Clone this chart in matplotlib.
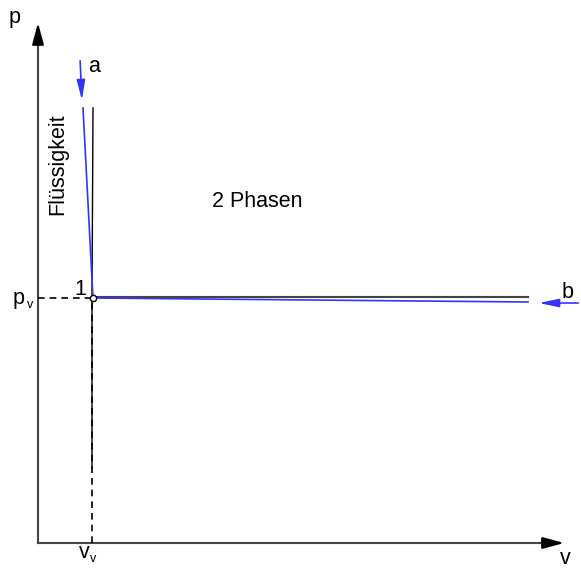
import matplotlib.pyplot as plt

plt.rcParams['font.family'] = ['Liberation Sans', 'DejaVu Sans']

# schematic p-v diagram, coordinates in drawing units (origin bottom-left)
W, H = 581, 569
axis_origin = (38, 26)
axis_v_end = 567
axis_p_end = 549

point1 = (93, 271)              # (v_v, p_v)
liq_v = [93, 92, 92]            # black liquid line
liq_p = [461, 271, 101]
two_phase_v = [93, 528]          # black horizontal line
two_phase_p = [272, 272]

path_a_v = [80, 93]              # blue path a
path_a_p = [511, 271]
path_b_v = [93, 528]             # blue path b
path_b_p = [271, 267]
arrow_b_v = [581, 536]
arrow_b_p = [266, 266]

fig = plt.figure(figsize=(W / 100, H / 100), dpi=100)
ax = fig.add_axes([0, 0, 1, 1])
ax.set_xlim(0, W)
ax.set_ylim(0, H)
ax.axis('off')

axcol = '#444444'
# axes with arrows
ax.plot([axis_origin[0], axis_v_end - 20], [axis_origin[1]] * 2, color=axcol, lw=1.5)
ax.plot([axis_origin[0]] * 2, [axis_origin[1], axis_p_end - 20], color=axcol, lw=1.5)
ax.annotate('', xy=(axis_v_end, axis_origin[1]), xytext=(axis_v_end - 21, axis_origin[1]),
            arrowprops=dict(arrowstyle='-|>,head_length=1.3,head_width=0.35', color='black', lw=1.5))
ax.annotate('', xy=(axis_origin[0], axis_p_end), xytext=(axis_origin[0], axis_p_end - 21),
            arrowprops=dict(arrowstyle='-|>,head_length=1.3,head_width=0.35', color='black', lw=1.5))

# dashed guides
ax.plot([axis_origin[0], point1[0]], [point1[1], point1[1]], '--', color='black', lw=1.2, dashes=(4, 3))
ax.plot([point1[0] - 1, point1[0] - 1], [axis_origin[1], point1[1]], '--', color='black', lw=1.2, dashes=(4, 3))

# phase boundaries
ax.plot(liq_v, liq_p, color='black', lw=1.0)
ax.plot(two_phase_v, two_phase_p, color=axcol, lw=1.5)

# blue paths
blue = '#3333ff'
ax.plot([path_a_v[0] + 3, path_a_v[1]], [path_a_p[0] - 50, path_a_p[1]], color=blue, lw=1.2)
ax.annotate('', xy=(82, 466), xytext=(path_a_v[0], path_a_p[0]),
            arrowprops=dict(arrowstyle='-|>,head_length=1.2,head_width=0.25', color=blue, lw=1.2))
ax.plot(path_b_v, path_b_p, color=blue, lw=1.2)
ax.annotate('', xy=(arrow_b_v[1], arrow_b_p[1]), xytext=(arrow_b_v[0], arrow_b_p[0]),
            arrowprops=dict(arrowstyle='-|>,head_length=1.2,head_width=0.25', color=blue, lw=1.2))

ax.plot(*point1, 'o', ms=4.5, mfc='white', mec='black', mew=1.0)

fs = 15.5
ax.text(15, 552, 'p', fontsize=fs, ha='center', va='center')
ax.text(565, 11, 'v', fontsize=fs, ha='center', va='center')
ax.text(94, 503, 'a', fontsize=fs, ha='center', va='center')
ax.text(568, 277, 'b', fontsize=fs, ha='center', va='center')
ax.text(80, 280, '1', fontsize=fs, ha='center', va='center')
ax.text(257, 368, '2 Phasen', fontsize=fs, ha='center', va='center')
ax.text(58, 405, 'Flüssigkeit', fontsize=fs, ha='center', va='center', rotation=90)
ax.text(19, 271, 'p', fontsize=fs, ha='center', va='center')
ax.text(30, 264, 'v', fontsize=9, ha='center', va='center')
ax.text(84, 17, 'v', fontsize=fs, ha='center', va='center')
ax.text(93, 10, 'v', fontsize=9, ha='center', va='center')

fig.savefig('out.png', dpi=100)
